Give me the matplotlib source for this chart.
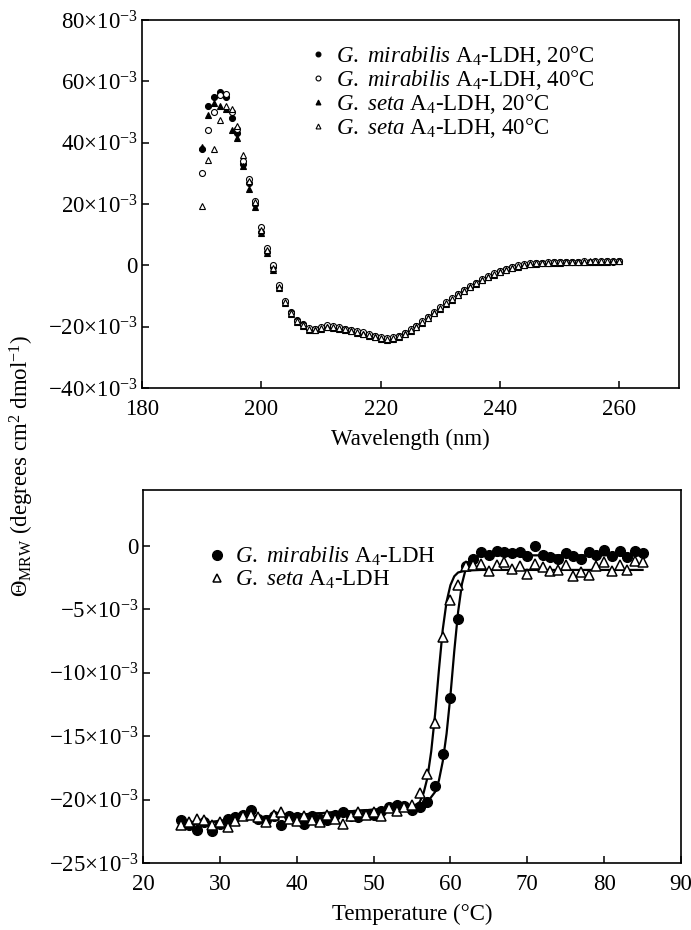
import matplotlib
matplotlib.use("Agg")
import matplotlib.pyplot as plt
from matplotlib.ticker import FuncFormatter, MultipleLocator
from matplotlib.lines import Line2D

plt.rcParams['font.family'] = ['Liberation Serif', 'DejaVu Serif']
plt.rcParams['mathtext.fontset'] = 'custom'
plt.rcParams['mathtext.rm'] = 'Liberation Serif'
plt.rcParams['mathtext.it'] = 'Liberation Serif:italic'
plt.rcParams['mathtext.bf'] = 'Liberation Serif:bold'
FS = 16.5
plt.rcParams['font.size'] = FS

# ---------------- Top panel: CD spectra (values in units of 10^-3) -------------
wavelength = list(range(190, 261))

gm_20 = [38.0, 52.0, 55.0, 56.5, 55.0, 48.0, 43.0, 33.0, 27.0, 20.0,
         11.0, 4.5, -0.5, -7.0, -11.8, -15.2, -17.8, -19.2, -20.6, -20.9,
         -20.3, -19.9, -20.1, -20.4, -20.8, -21.2, -21.7, -22.1, -22.6, -23.1,
         -23.6, -23.9, -23.7, -23.1, -22.2, -21.1, -19.9, -18.5, -17.0, -15.4,
         -13.8, -12.3, -10.9, -9.5, -8.2, -7.0, -5.8, -4.7, -3.7, -2.8,
         -2.0, -1.3, -0.7, -0.2, 0.2, 0.5, 0.7, 0.8, 0.9, 1.0,
         1.0, 1.1, 1.0, 1.1, 1.2, 1.1, 1.2, 1.2, 1.3, 1.2, 1.3]

gm_40 = [30.0, 44.0, 50.0, 55.5, 56.0, 50.0, 44.5, 34.0, 28.0, 21.0,
         12.5, 5.5, 0.0, -6.5, -11.5, -15.6, -18.2, -19.6, -20.4, -20.6,
         -20.0, -19.6, -19.9, -20.2, -20.6, -21.0, -21.5, -21.9, -22.4, -22.9,
         -23.3, -23.6, -23.5, -22.9, -22.0, -20.9, -19.7, -18.3, -16.8, -15.2,
         -13.6, -12.1, -10.7, -9.3, -8.0, -6.8, -5.6, -4.5, -3.5, -2.6,
         -1.8, -1.1, -0.5, 0.0, 0.3, 0.6, 0.8, 0.9, 1.0, 1.0,
         1.1, 1.2, 1.1, 1.2, 1.3, 1.2, 1.3, 1.3, 1.4, 1.3, 1.4]

gs_20 = [38.5, 49.0, 53.0, 52.0, 51.0, 44.0, 41.5, 32.5, 25.0, 19.0,
         10.5, 4.0, -1.5, -7.5, -12.2, -15.8, -18.4, -19.8, -21.0, -21.2,
         -20.6, -20.2, -20.4, -20.7, -21.1, -21.5, -22.0, -22.4, -22.9, -23.4,
         -23.9, -24.2, -24.0, -23.4, -22.5, -21.4, -20.2, -18.8, -17.3, -15.7,
         -14.1, -12.6, -11.2, -9.8, -8.5, -7.2, -6.0, -4.9, -3.9, -3.0,
         -2.2, -1.5, -0.9, -0.4, 0.0, 0.3, 0.5, 0.7, 0.8, 0.9,
         0.9, 1.0, 1.0, 1.1, 1.1, 1.1, 1.2, 1.2, 1.2, 1.3, 1.3]

gs_40 = [19.5, 34.5, 38.0, 47.5, 52.0, 51.0, 45.5, 36.0, 27.5, 20.5,
         11.5, 5.0, -1.0, -7.0, -12.0, -15.4, -18.0, -19.4, -20.7, -21.0,
         -20.4, -20.0, -20.2, -20.5, -20.9, -21.4, -21.8, -22.3, -22.8, -23.3,
         -23.7, -24.0, -23.8, -23.2, -22.3, -21.2, -20.0, -18.6, -17.1, -15.5,
         -13.9, -12.4, -11.0, -9.6, -8.3, -7.1, -5.9, -4.8, -3.8, -2.9,
         -2.1, -1.4, -0.8, -0.3, 0.1, 0.4, 0.6, 0.8, 0.9, 1.0,
         1.0, 1.1, 1.1, 1.2, 1.2, 1.3, 1.3, 1.3, 1.4, 1.4, 1.5]

top_labels = [r"$\it{G.}$ $\it{mirabilis}$ A$_4$-LDH, 20°C",
              r"$\it{G.}$ $\it{mirabilis}$ A$_4$-LDH, 40°C",
              r"$\it{G.}$ $\it{seta}$ A$_4$-LDH, 20°C",
              r"$\it{G.}$ $\it{seta}$ A$_4$-LDH, 40°C"]

# ---------------- Bottom panel: thermal melts (units of 10^-3) -----------------
temperature = list(range(25, 86))

gm_melt = [-21.6, -22.0, -22.4, -21.8, -22.5, -21.9, -21.5, -21.4, -21.2, -20.8,
           -21.5, -21.6, -21.3, -22.0, -21.3, -21.4, -21.9, -21.3, -21.5, -21.6,
           -21.2, -21.0, -21.3, -21.4, -21.1, -21.2, -20.9, -20.6, -20.4, -20.5,
           -20.8, -20.6, -20.2, -18.9, -16.4, -12.0, -5.8, -1.6, -1.0, -0.5,
           -0.7, -0.4, -0.5, -0.6, -0.5, -0.8, 0.0, -0.7, -0.9, -1.0,
           -0.6, -0.8, -1.0, -0.5, -0.7, -0.3, -0.8, -0.4, -0.9, -0.4,
           -0.6]

gs_melt = [-22.0, -21.8, -21.5, -21.6, -22.0, -21.8, -22.2, -21.7, -21.3, -21.2,
           -21.4, -21.8, -21.2, -21.0, -21.5, -21.7, -21.3, -21.6, -21.8, -21.2,
           -21.5, -21.9, -21.3, -21.0, -21.2, -21.0, -21.3, -20.7, -20.9, -20.6,
           -20.4, -19.5, -18.0, -14.0, -7.2, -4.3, -3.1, -1.6, -1.5, -1.4,
           -2.0, -1.5, -1.3, -1.8, -1.6, -2.2, -1.4, -1.7, -2.0, -1.9,
           -1.5, -2.4, -2.1, -2.3, -1.6, -1.3, -2.0, -1.5, -1.9, -1.2,
           -1.3]

# fitted curves
gm_fit_t = [25, 30, 35, 40, 45, 50, 55, 56, 57, 58, 58.5, 59, 59.5, 60, 60.5,
            61, 61.5, 62, 62.5, 63, 64, 66, 85]
gm_fit_v = [-22.0, -21.7, -21.4, -21.2, -21.0, -20.8, -20.6, -20.5, -20.2, -19.4,
            -18.5, -17.0, -14.8, -11.8, -8.3, -5.2, -3.0, -1.8, -1.2, -0.95,
            -0.8, -0.75, -0.75]
gs_fit_t = [25, 30, 35, 40, 45, 50, 55, 56, 56.5, 57, 57.5, 58, 58.5, 59, 59.5,
            60, 60.5, 61, 62, 64, 85]
gs_fit_v = [-22.0, -21.7, -21.4, -21.2, -21.0, -20.8, -20.6, -20.2, -19.5, -18.3,
            -16.2, -13.3, -9.8, -6.6, -4.4, -3.1, -2.4, -2.1, -1.95, -1.9, -1.9]

bottom_labels = [r"$\it{G.}$ $\it{mirabilis}$ A$_4$-LDH", r"$\it{G.}$ $\it{seta}$ A$_4$-LDH"]


def sci_fmt(v, pos):
    iv = int(round(v))
    if iv == 0:
        return "0"
    sign = "\u2212" if iv < 0 else ""
    return f"{sign}{abs(iv)}×10$^{{-3}}$"


fig = plt.figure(figsize=(6.91, 9.30), dpi=100)

ax1 = fig.add_axes([142 / 691, 1 - 388 / 930, (679 - 142) / 691, (388 - 20) / 930])
ax2 = fig.add_axes([143 / 691, 1 - 863 / 930, (681 - 143) / 691, (863 - 490) / 930])

ms_small = 4.3
ax1.plot(wavelength, gm_20, ls='none', marker='o', ms=ms_small, mfc='black', mec='black', mew=0.8)
ax1.plot(wavelength, gm_40, ls='none', marker='o', ms=ms_small, mfc='white', mec='black', mew=0.8)
ax1.plot(wavelength, gs_20, ls='none', marker='^', ms=ms_small, mfc='black', mec='black', mew=0.8)
ax1.plot(wavelength, gs_40, ls='none', marker='^', ms=ms_small, mfc='white', mec='black', mew=0.8)

ax1.set_xlim(180, 270)
ax1.set_ylim(-40, 80)
ax1.xaxis.set_major_locator(MultipleLocator(20))
ax1.yaxis.set_major_locator(MultipleLocator(20))
ax1.yaxis.set_major_formatter(FuncFormatter(sci_fmt))
ax1.set_xlabel("Wavelength (nm)", labelpad=6)

handles1 = [
    Line2D([], [], ls='none', marker='o', ms=3.5, mfc='black', mec='black', mew=0.8),
    Line2D([], [], ls='none', marker='o', ms=3.5, mfc='white', mec='black', mew=0.8),
    Line2D([], [], ls='none', marker='^', ms=3.5, mfc='black', mec='black', mew=0.8),
    Line2D([], [], ls='none', marker='^', ms=3.5, mfc='white', mec='black', mew=0.8),
]
fig.legend(handles1, top_labels, loc='upper left', bbox_to_anchor=(311 / 691, 1 - 44 / 930),
           frameon=False, handlelength=0.6, handletextpad=0.5, labelspacing=0.0,
           borderpad=0, borderaxespad=0, fontsize=FS)

ax2.plot(gm_fit_t, gm_fit_v, color='black', lw=1.6, zorder=2)
ax2.plot(gs_fit_t, gs_fit_v, color='black', lw=1.6, zorder=2)
ax2.plot(temperature, gm_melt, ls='none', marker='o', ms=7, mfc='black', mec='black', mew=1, zorder=3)
ax2.plot(temperature, gs_melt, ls='none', marker='^', ms=7, mfc='white', mec='black', mew=1.1, zorder=4)

ax2.set_xlim(20, 90)
ax2.set_ylim(-25, 4.4)
ax2.xaxis.set_major_locator(MultipleLocator(10))
ax2.yaxis.set_major_locator(MultipleLocator(5))
ax2.yaxis.set_major_formatter(FuncFormatter(sci_fmt))
ax2.set_xlabel("Temperature (°C)", labelpad=6)

handles2 = [
    Line2D([], [], ls='none', marker='o', ms=7, mfc='black', mec='black', mew=1),
    Line2D([], [], ls='none', marker='^', ms=6, mfc='white', mec='black', mew=1.1),
]
fig.legend(handles2, bottom_labels, loc='upper left', bbox_to_anchor=(210 / 691, 1 - 545 / 930),
           frameon=False, handlelength=0.6, handletextpad=0.5, labelspacing=0.02,
           borderpad=0, borderaxespad=0, fontsize=FS)

for ax in (ax1, ax2):
    for side in ('top', 'right', 'left', 'bottom'):
        ax.spines[side].set_linewidth(1.2)
    ax.tick_params(direction='in', length=5, width=1.1, labelsize=FS,
                   top=False, right=False)
    ax.tick_params(axis='x', pad=8)
    ax.tick_params(axis='y', pad=3)

fig.text(22 / 691, 1 - 466 / 930,
         r"$\Theta_{\mathrm{MRW}}$ (degrees cm$^2$ dmol$^{-1}$)",
         rotation=90, ha='center', va='center', fontsize=FS)

fig.savefig("out.png", dpi=100)
